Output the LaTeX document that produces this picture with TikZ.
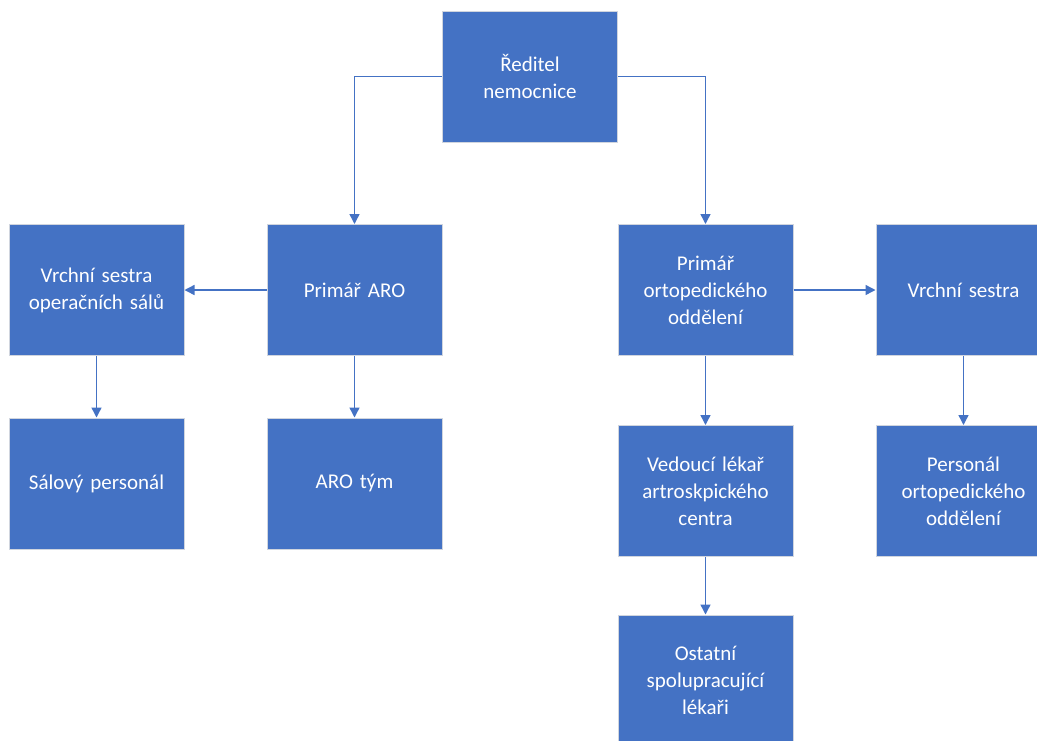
\documentclass[tikz,border=0pt]{standalone}
\usepackage{fontspec}
\setmainfont{Carlito}
\usetikzlibrary{arrows.meta}
\definecolor{boxblue}{HTML}{4472C4}
\definecolor{boxedge}{HTML}{D0D5DE}
\begin{document}
\begin{tikzpicture}[x=1pt,y=-1pt,
  orgbox/.style={rectangle, fill=boxblue, draw=boxedge, line width=1pt,
    minimum width=175pt, minimum height=131pt, inner sep=0pt,
    text=white, align=center, text width=172pt,
    font=\fontsize{21}{27}\selectfont},
  link/.style={draw=boxblue, line width=1.4pt,
    -{Triangle[length=10pt,width=10pt]}}]
\useasboundingbox (0,0) rectangle (1037,740);
\clip (0,0) rectangle (1037,740);
\fill[white] (0,0) rectangle (1037,740);

% top level
\node[orgbox] (dir) at (530,76.5) {Ředitel\\nemocnice};

% second level
\node[orgbox] (vsl)  at (96.5,290)  {Vrchní sestra\\operačních sálů};
\node[orgbox] (paro) at (354.5,290) {Primář ARO};
\node[orgbox] (port) at (705.5,290) {Primář\\ortopedického\\oddělení};
\node[orgbox] (vsr)  at (963.5,290) {Vrchní sestra};

% third level
\node[orgbox] (sal)  at (96.5,483.5)  {Sálový personál};
\node[orgbox] (aro)  at (354.5,483.5) {ARO tým};
\node[orgbox] (ved)  at (705.5,491)   {Vedoucí lékař\\artroskpického\\centra};
\node[orgbox] (pers) at (963.5,491)   {Personál\\ortopedického\\oddělení};

% fourth level
\node[orgbox] (ost)  at (705.5,680.5) {Ostatní\\spolupracující\\lékaři};

% connectors
\draw[link] (dir.west) -| (paro.north);
\draw[link] (dir.east) -| (port.north);
\draw[link] (paro.west) -- (vsl.east);
\draw[link] (port.east) -- (vsr.west);
\draw[link] (vsl.south) -- (sal.north);
\draw[link] (paro.south) -- (aro.north);
\draw[link] (port.south) -- (ved.north);
\draw[link] (vsr.south) -- (pers.north);
\draw[link] (ved.south) -- (ost.north);
\end{tikzpicture}
\end{document}
